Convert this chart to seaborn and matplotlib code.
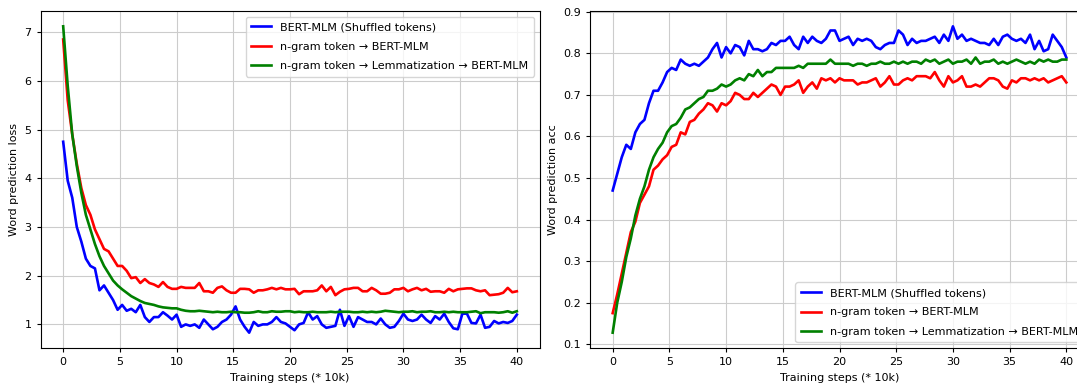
import numpy as np
import pandas as pd
import matplotlib
matplotlib.use("Agg")
import matplotlib.pyplot as plt
import seaborn as sns

steps = np.round(np.arange(0, 40.01, 0.4), 1)

labels = ["BERT-MLM (Shuffled tokens)",
          "n-gram token \u2192 BERT-MLM",
          "n-gram token \u2192 Lemmatization \u2192 BERT-MLM"]
colors = ["blue", "red", "green"]

loss_shuffled = [4.75, 3.95, 3.6, 3.0, 2.7, 2.35, 2.2, 2.15, 1.7, 1.8,
                 1.65, 1.5, 1.3, 1.4, 1.28, 1.32, 1.25, 1.4, 1.15, 1.05,
                 1.15, 1.15, 1.25, 1.18, 1.1, 1.2, 0.95, 1.0, 0.97, 1.0,
                 0.93, 1.1, 1.0, 0.9, 0.95, 1.05, 1.1, 1.2, 1.37, 1.1,
                 0.95, 0.83, 1.05, 0.97, 1.0, 1.0, 1.05, 1.15, 1.05, 1.02,
                 0.95, 0.88, 1.0, 1.03, 1.25, 1.1, 1.17, 1.0, 0.93, 0.95,
                 0.97, 1.3, 0.97, 1.17, 0.95, 1.15, 1.1, 1.05, 1.05, 1.0,
                 1.12, 1.0, 0.93, 0.95, 1.07, 1.22, 1.1, 1.07, 1.1, 1.2,
                 1.1, 1.03, 1.17, 1.1, 1.22, 1.05, 0.92, 0.9, 1.22, 1.22,
                 1.03, 1.02, 1.2, 0.93, 0.95, 1.07, 1.02, 1.05, 1.03, 1.07,
                 1.2]
loss_ngram = [6.85, 5.6, 4.9, 4.3, 3.8, 3.45, 3.25, 2.95, 2.75, 2.55,
              2.5, 2.35, 2.2, 2.2, 2.1, 1.95, 1.97, 1.85, 1.93, 1.85,
              1.82, 1.77, 1.87, 1.77, 1.73, 1.73, 1.77, 1.75, 1.75, 1.75,
              1.85, 1.68, 1.68, 1.65, 1.75, 1.78, 1.7, 1.65, 1.65, 1.73,
              1.73, 1.72, 1.65, 1.7, 1.7, 1.72, 1.75, 1.72, 1.75, 1.72,
              1.72, 1.73, 1.62, 1.68, 1.68, 1.68, 1.7, 1.8, 1.68, 1.77,
              1.6, 1.67, 1.72, 1.73, 1.75, 1.75, 1.68, 1.68, 1.75, 1.7,
              1.63, 1.63, 1.65, 1.72, 1.72, 1.75, 1.68, 1.72, 1.75, 1.7,
              1.73, 1.67, 1.68, 1.68, 1.65, 1.73, 1.68, 1.72, 1.73, 1.74,
              1.74, 1.7, 1.68, 1.7, 1.6, 1.61, 1.62, 1.65, 1.75, 1.66,
              1.68]
loss_lemma = [7.12, 5.9, 4.9, 4.25, 3.7, 3.25, 2.95, 2.65, 2.4, 2.2,
              2.05, 1.9, 1.8, 1.72, 1.65, 1.58, 1.53, 1.48, 1.44, 1.42,
              1.4, 1.37, 1.35, 1.34, 1.33, 1.33, 1.3, 1.28, 1.27, 1.27,
              1.28, 1.27, 1.26, 1.25, 1.26, 1.25, 1.25, 1.26, 1.25, 1.25,
              1.24, 1.24, 1.25, 1.27, 1.25, 1.25, 1.27, 1.26, 1.26, 1.27,
              1.27, 1.25, 1.26, 1.25, 1.25, 1.26, 1.25, 1.25, 1.25, 1.26,
              1.25, 1.26, 1.26, 1.26, 1.25, 1.25, 1.26, 1.25, 1.26, 1.25,
              1.26, 1.28, 1.27, 1.26, 1.25, 1.26, 1.26, 1.27, 1.25, 1.26,
              1.26, 1.27, 1.25, 1.25, 1.26, 1.25, 1.26, 1.25, 1.25, 1.25,
              1.26, 1.27, 1.23, 1.25, 1.25, 1.25, 1.24, 1.25, 1.27, 1.24,
              1.27]

acc_shuffled = [0.47, 0.51, 0.55, 0.58, 0.57, 0.61, 0.63, 0.64, 0.68, 0.71,
                0.71, 0.73, 0.755, 0.765, 0.76, 0.785, 0.775, 0.77, 0.775, 0.77,
                0.78, 0.79, 0.81, 0.825, 0.79, 0.815, 0.8, 0.82, 0.815, 0.795,
                0.83, 0.81, 0.81, 0.805, 0.81, 0.825, 0.82, 0.83, 0.83, 0.84,
                0.82, 0.81, 0.84, 0.825, 0.84, 0.83, 0.825, 0.835, 0.855, 0.855,
                0.83, 0.835, 0.84, 0.82, 0.835, 0.83, 0.835, 0.83, 0.815, 0.81,
                0.82, 0.825, 0.825, 0.855, 0.845, 0.82, 0.835, 0.825, 0.83, 0.83,
                0.835, 0.84, 0.825, 0.845, 0.83, 0.865, 0.835, 0.845, 0.83, 0.835,
                0.83, 0.825, 0.825, 0.82, 0.835, 0.82, 0.84, 0.845, 0.835, 0.83,
                0.835, 0.825, 0.845, 0.81, 0.83, 0.805, 0.81, 0.845, 0.83, 0.815,
                0.79]
acc_ngram = [0.175, 0.22, 0.27, 0.32, 0.37, 0.395, 0.44, 0.46, 0.48, 0.52,
             0.53, 0.545, 0.555, 0.575, 0.58, 0.61, 0.605, 0.635, 0.64, 0.655,
             0.665, 0.68, 0.675, 0.66, 0.68, 0.675, 0.685, 0.705, 0.7, 0.69,
             0.69, 0.705, 0.695, 0.705, 0.715, 0.725, 0.72, 0.7, 0.72, 0.72,
             0.725, 0.735, 0.705, 0.72, 0.73, 0.715, 0.74, 0.735, 0.74, 0.73,
             0.74, 0.735, 0.735, 0.735, 0.725, 0.73, 0.73, 0.735, 0.74, 0.72,
             0.73, 0.745, 0.725, 0.725, 0.735, 0.74, 0.735, 0.745, 0.745, 0.745,
             0.74, 0.755, 0.735, 0.72, 0.745, 0.73, 0.735, 0.745, 0.72, 0.72,
             0.725, 0.72, 0.73, 0.74, 0.74, 0.735, 0.72, 0.715, 0.735, 0.73,
             0.74, 0.74, 0.735, 0.74, 0.735, 0.74, 0.73, 0.735, 0.74, 0.745,
             0.73]
acc_lemma = [0.128, 0.2, 0.25, 0.31, 0.355, 0.41, 0.45, 0.48, 0.52, 0.55,
             0.57, 0.585, 0.61, 0.625, 0.63, 0.645, 0.665, 0.67, 0.68, 0.69,
             0.695, 0.71, 0.71, 0.715, 0.725, 0.72, 0.725, 0.735, 0.74, 0.735,
             0.75, 0.745, 0.76, 0.745, 0.755, 0.755, 0.765, 0.765, 0.765, 0.765,
             0.765, 0.77, 0.765, 0.775, 0.775, 0.775, 0.775, 0.775, 0.785, 0.775,
             0.775, 0.775, 0.775, 0.77, 0.775, 0.775, 0.77, 0.775, 0.775, 0.78,
             0.775, 0.775, 0.78, 0.775, 0.78, 0.775, 0.78, 0.78, 0.775, 0.785,
             0.78, 0.785, 0.775, 0.78, 0.785, 0.775, 0.78, 0.78, 0.785, 0.775,
             0.79, 0.775, 0.78, 0.78, 0.785, 0.775, 0.78, 0.775, 0.78, 0.785,
             0.78, 0.775, 0.78, 0.775, 0.785, 0.78, 0.785, 0.78, 0.78, 0.785,
             0.785]


def long_df(series):
    frames = []
    for lab, vals in zip(labels, series):
        frames.append(pd.DataFrame({"step": steps, "value": vals, "model": lab}))
    return pd.concat(frames, ignore_index=True)


df_loss = long_df([loss_shuffled, loss_ngram, loss_lemma])
df_acc = long_df([acc_shuffled, acc_ngram, acc_lemma])

plt.rcParams["font.size"] = 8
plt.rcParams["font.family"] = ["DejaVu Sans"]

fig = plt.figure(figsize=(10.77, 3.88), dpi=100)
W, H = 1077.0, 388.0
ax1 = fig.add_axes([40.5 / W, 40 / H, 499 / W, 337 / H])
ax2 = fig.add_axes([590 / W, 40 / H, 499 / W, 337 / H])

palette = dict(zip(labels, colors))
for ax, df, ylabel, loc in [(ax1, df_loss, "Word prediction loss", "upper right"),
                            (ax2, df_acc, "Word prediction acc", "lower right")]:
    sns.lineplot(data=df, x="step", y="value", hue="model", palette=palette,
                 hue_order=labels, linewidth=1.9, ax=ax, errorbar=None)
    ax.grid(True, color="#cccccc", linewidth=0.8)
    ax.set_axisbelow(True)
    ax.set_xlabel("Training steps (* 10k)", fontsize=8)
    ax.set_ylabel(ylabel, fontsize=8)
    ax.set_xticks([0, 5, 10, 15, 20, 25, 30, 35, 40])
    ax.tick_params(labelsize=8, length=3)
    ax.legend(loc=loc, title=None, fontsize=8, labelspacing=0.85,
              handlelength=1.8, borderpad=0.5)

ax1.set_yticks([1, 2, 3, 4, 5, 6, 7])
ax2.set_yticks([0.1, 0.2, 0.3, 0.4, 0.5, 0.6, 0.7, 0.8, 0.9])

fig.savefig("out.png", dpi=100)
